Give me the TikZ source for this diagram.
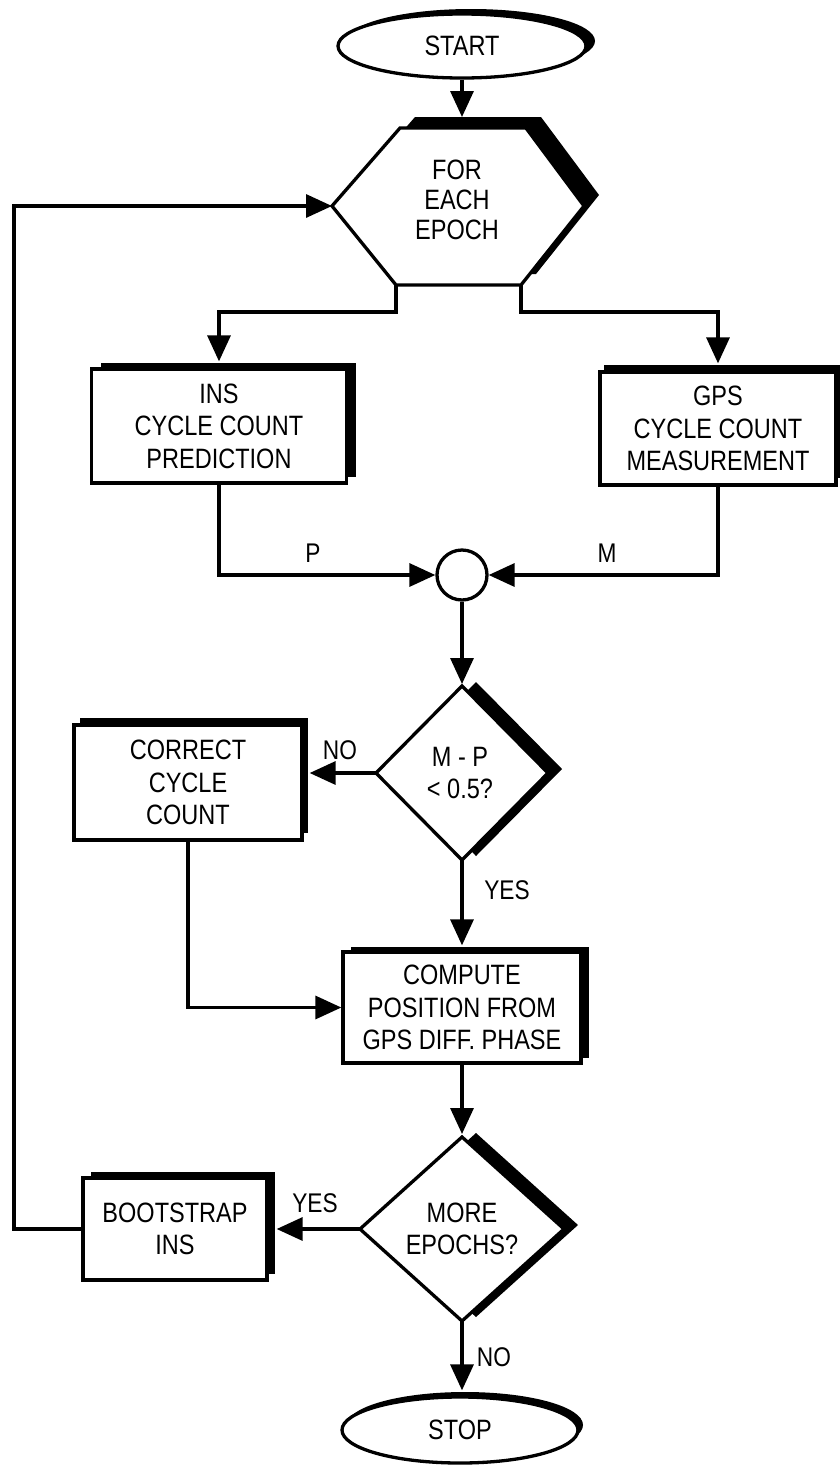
\documentclass[tikz,border=0pt]{standalone}
\usepackage{fontspec}
\setmainfont{Liberation Sans}[FakeStretch=0.84]
\usetikzlibrary{arrows.meta,shapes.geometric,shadows,calc}
\begin{document}
\begin{tikzpicture}[x=1pt,y=-1pt,line width=3.3pt,
  txt/.style={font=\fontsize{28}{32.5}\selectfont, align=center, inner sep=0pt},
  tag/.style={font=\fontsize{27}{30}\selectfont, inner sep=0pt},
  flow/.style={-{Triangle[length=26pt,width=23pt]}},
  boxsh/.style 2 args={general shadow={fill=black, draw=none, shadow xshift=#1, shadow yshift=#2}},
  procbox/.style={rectangle, draw, fill=white, txt},
  termnode/.style={ellipse, draw, fill=white, txt}
]
\useasboundingbox (0,0) rectangle (840,1465);

% outlines of the hand-drawn shapes
\def\hexpath{(332,206) -- (400,128) -- (526,128) -- (584,206) -- (521,285) -- (396,285) -- cycle}
\def\dApath{(462,686) -- (548,773) -- (462,860) -- (376,773) -- cycle}
\def\dBpath{(462,1137) -- (564,1229) -- (462,1321) -- (360,1229) -- cycle}

% named corner points
\coordinate (hxL) at (332,206);
\coordinate (hxBL) at (396,285);
\coordinate (hxBR) at (521,285);
\coordinate (hxTop) at (462,117);
\coordinate (d1T) at (462,684);
\coordinate (d1L) at (376,773);
\coordinate (d1B) at (462,860);
\coordinate (d2T) at (462,1134);
\coordinate (d2L) at (360,1229);
\coordinate (d2B) at (462,1321);
\coordinate (loopx) at (14,700);

% terminals
\node[termnode, minimum width=248pt, minimum height=64pt, boxsh={9pt}{5pt}] (start) at (462,46) {START};
\node[termnode, minimum width=236pt, minimum height=66pt, boxsh={5pt}{5pt}] (stop) at (460,1430) {STOP};

% loop hexagon
\fill[shift={(15,-11)}] \hexpath;
\draw[fill=white, line join=miter] \hexpath;
\node[txt, font=\fontsize{28}{30}\selectfont] (epoch) at (457,200) {FOR\\EACH\\EPOCH};

% process boxes
\node[procbox, minimum width=255pt, minimum height=114pt, boxsh={9pt}{6pt}] (ins) at (219,426) {INS\\CYCLE COUNT\\PREDICTION};
\node[procbox, minimum width=236pt, minimum height=113pt, boxsh={4pt}{7pt}] (gps) at (718,428.5) {GPS\\CYCLE COUNT\\MEASUREMENT};
\node[procbox, minimum width=228pt, minimum height=115pt, boxsh={6pt}{7pt}] (correct) at (188,782.5) {CORRECT\\CYCLE\\COUNT};
\node[procbox, minimum width=238pt, minimum height=111pt, boxsh={8pt}{5pt}] (compute) at (462,1007.5) {COMPUTE\\POSITION FROM\\GPS DIFF. PHASE};
\node[procbox, minimum width=184pt, minimum height=102pt, boxsh={8pt}{6pt}] (boot) at (175,1229) {BOOTSTRAP\\INS};

% comparison node
\node[circle, draw, fill=white, minimum size=50pt, inner sep=0pt] (sum) at (462,575) {};

% decisions
\fill[shift={(14,-4)}] \dApath;
\draw[fill=white, line join=miter] \dApath;
\node[txt] (q1) at (460,773) {M - P\\< 0.5?};
\fill[shift={(14,-4)}] \dBpath;
\draw[fill=white, line join=miter] \dBpath;
\node[txt] (q2) at (462,1229) {MORE\\EPOCHS?};

% connector labels
\node[tag] (lp) at (313,553) {P};
\node[tag] (lm) at (607,553) {M};
\node[tag] (lno1) at (340,750) {NO};
\node[tag] (lyes1) at (507,890) {YES};
\node[tag] (lyes2) at (315,1203) {YES};
\node[tag] (lno2) at (494,1357) {NO};

% connectors
\draw[flow] (start.south) -- (hxTop);
\draw[flow] (hxBL) -- ++(0,27) -| ($(ins.north)+(0,-6)$);
\draw[flow] (hxBR) -- ++(0,27) -| ($(gps.north)+(0,-7)$);
\draw[flow] (ins.south) |- (sum.west);
\draw[flow] (gps.south) |- (sum.east);
\draw[flow] (sum.south) -- (d1T);
\draw[flow] (d1L) -- ($(d1L -| correct.east)+(6,0)$);
\draw[flow] (d1B) -- ($(compute.north)+(0,-5)$);
\draw[flow] (correct.south) |- (compute.west);
\draw[flow] (compute.south) -- (d2T);
\draw[flow] (d2L) -- ($(d2L -| boot.east)+(8,0)$);
\draw[flow] (boot.west) -| (loopx) |- (hxL);
\draw[flow] (d2B) -- ($(d2B |- stop.north)+(0,-5)$);
\end{tikzpicture}
\end{document}
